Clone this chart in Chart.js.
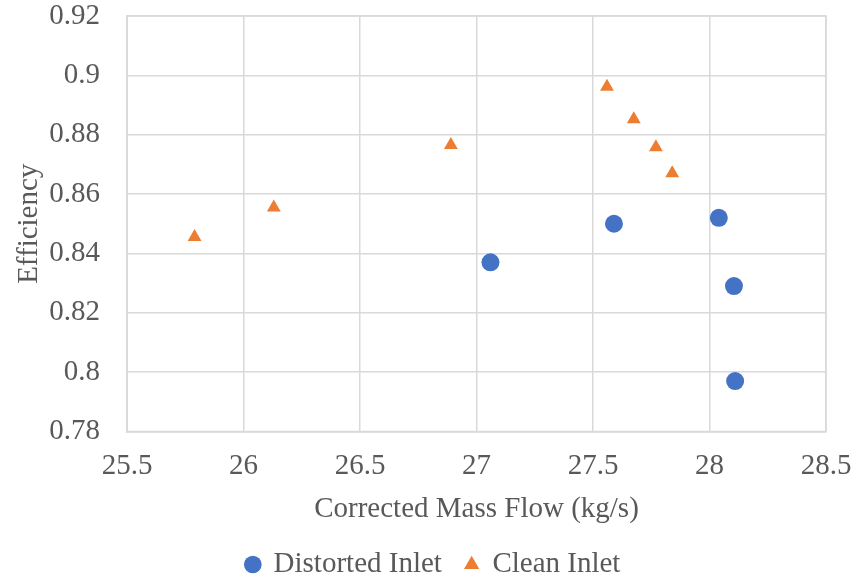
<!DOCTYPE html>
<html>
<head>
<meta charset="utf-8">
<script src="https://cdn.jsdelivr.net/npm/chart.js@4"></script>
<style>
  html, body { margin: 0; padding: 0; background: #fff; }
  #wrap { width: 854px; height: 579px; }
</style>
</head>
<body>
<div id="wrap"><canvas id="effChart" width="854" height="579"></canvas></div>
<script>
// mass flow (kg/s) and efficiency for each inlet condition
const distortedFlow = [27.06, 27.59, 28.04, 28.105, 28.11];
const distortedEff = [0.837, 0.850, 0.852, 0.829, 0.797];
const cleanFlow = [25.79, 26.13, 26.89, 27.56, 27.675, 27.77, 27.84];
const cleanEff = [0.8455, 0.8555, 0.8765, 0.8962, 0.8852, 0.8758, 0.867];
const xTicks = [25.5, 26, 26.5, 27, 27.5, 28, 28.5];
const yTicks = [0.78, 0.8, 0.82, 0.84, 0.86, 0.88, 0.9, 0.92];

const serif = "'Liberation Serif', 'Times New Roman', serif";
const textGray = '#595959';
const gridGray = '#d9d9d9';
const fontSize = 29;

function toPoints(xs, ys) {
    return xs.map((x, i) => ({ x: x, y: ys[i] }));
}

const ctx = document.getElementById('effChart').getContext('2d');
new Chart(ctx, {
    type: 'scatter',
    data: {
        datasets: [
            {
                label: 'Distorted Inlet',
                data: toPoints(distortedFlow, distortedEff),
                pointStyle: 'circle',
                pointRadius: 9,
                backgroundColor: '#4472C4',
                borderColor: '#4472C4',
                borderWidth: 0
            },
            {
                label: 'Clean Inlet',
                data: toPoints(cleanFlow, cleanEff),
                pointStyle: 'triangle',
                pointRadius: 8,
                backgroundColor: '#ED7D31',
                borderColor: '#ED7D31',
                borderWidth: 0
            }
        ]
    },
    options: {
        responsive: false,
        animation: false,
        // legend sits centred under the whole figure, so the left side is padded
        layout: { padding: { left: 41, right: 28, top: 16, bottom: -10 } },
        plugins: {
            tooltip: { enabled: false },
            legend: {
                position: 'bottom',
                labels: {
                    usePointStyle: true,
                    boxWidth: 12.5,
                    boxHeight: 12.5,
                    padding: 23.5,
                    color: textGray,
                    font: { family: serif, size: fontSize }
                }
            }
        },
        scales: {
            x: {
                type: 'linear',
                min: 25.5,
                max: 28.5,
                afterBuildTicks: scale => { scale.ticks = xTicks.map(v => ({ value: v })); },
                afterFit: scale => {
                    scale.height = 95;
                    scale.paddingLeft = 0;
                    scale.paddingRight = 0;
                },
                ticks: {
                    padding: 17,
                    color: textGray,
                    font: { family: serif, size: fontSize },
                    callback: v => String(v)
                },
                grid: { color: gridGray, lineWidth: 1.5, drawTicks: false },
                border: { color: gridGray, width: 1.5 },
                title: {
                    display: true,
                    text: 'Corrected Mass Flow (kg/s)',
                    color: textGray,
                    font: { family: serif, size: fontSize },
                    padding: { top: 0, bottom: 0 }
                }
            },
            y: {
                min: 0.78,
                max: 0.92,
                afterBuildTicks: scale => { scale.ticks = yTicks.map(v => ({ value: v })); },
                afterFit: scale => {
                    scale.width = 86;
                    scale.paddingTop = 0;
                    scale.paddingBottom = 0;
                },
                ticks: {
                    padding: 27,
                    color: textGray,
                    font: { family: serif, size: fontSize },
                    callback: v => String(Math.round(v * 100) / 100)
                },
                grid: { color: gridGray, lineWidth: 1.5, drawTicks: false },
                border: { color: gridGray, width: 1.5 },
                title: {
                    display: true,
                    text: 'Efficiency',
                    color: textGray,
                    font: { family: serif, size: fontSize },
                    // pulls the title back out into the left padding
                    padding: { top: -29, bottom: 0 }
                }
            }
        }
    },
    plugins: [{
        // top and right frame lines of the plot
        id: 'frame',
        afterDraw(chart) {
            const a = chart.chartArea;
            const c = chart.ctx;
            c.save();
            c.strokeStyle = gridGray;
            c.lineWidth = 1.5;
            c.strokeRect(a.left, a.top, a.right - a.left, a.bottom - a.top);
            c.restore();
        }
    }]
});
</script>
</body>
</html>
